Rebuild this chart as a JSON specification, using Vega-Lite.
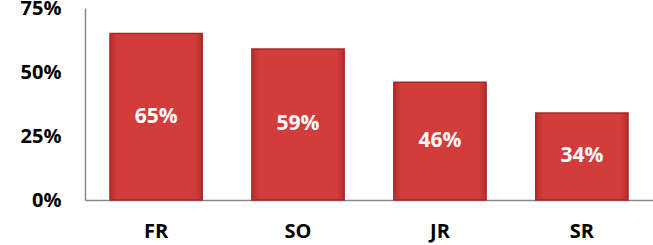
{
  "$schema": "https://vega.github.io/schema/vega-lite/v6.json",
  "width": 568,
  "height": 192,
  "autosize": {"type": "none"},
  "padding": {"left": 85, "top": 8, "right": 0, "bottom": 45},
  "config": {"view": {"stroke": null}, "font": "Open Sans"},
  "data": {"values": [
    {"year": "FR", "v": 0.65},
    {"year": "SO", "v": 0.59},
    {"year": "JR", "v": 0.46},
    {"year": "SR", "v": 0.34}
  ]},
  "transform": [{"calculate": "datum.v / 2", "as": "mid"}],
  "encoding": {
    "x": {
      "field": "year", "type": "nominal", "sort": null,
      "scale": {"paddingInner": 0.35, "paddingOuter": 0.176},
      "axis": {"title": null, "labelAngle": 0, "ticks": false, "domainColor": "#888888", "domainWidth": 1.5,
               "labelFont": "Open Sans", "labelFontWeight": "bold", "labelFontSize": 20, "labelColor": "#000000", "labelPadding": 21}
    }
  },
  "layer": [
    {
      "mark": {"type": "bar", "stroke": "#a52a28", "strokeWidth": 1.5,
        "color": {"gradient": "linear", "x1": 0, "y1": 0, "x2": 1, "y2": 0,
          "stops": [{"offset": 0, "color": "#b52e2c"}, {"offset": 0.08, "color": "#d23c3a"}, {"offset": 0.92, "color": "#d23c3a"}, {"offset": 1, "color": "#b52e2c"}]}},
      "encoding": {
        "y": {"field": "v", "type": "quantitative",
          "scale": {"domain": [0, 0.75], "nice": false},
          "axis": {"title": null, "values": [0, 0.25, 0.5, 0.75], "format": ".0%", "grid": false, "ticks": false,
                   "domainColor": "#888888", "domainWidth": 1.5, "labelFont": "Open Sans", "labelFontWeight": "bold",
                   "labelFontSize": 20, "labelColor": "#000000", "labelPadding": 24}}
      }
    },
    {
      "mark": {"type": "text", "color": "#ffffff", "fontWeight": "bold", "fontSize": 21, "font": "Open Sans", "baseline": "middle"},
      "encoding": {
        "y": {"field": "mid", "type": "quantitative"},
        "text": {"field": "v", "type": "quantitative", "format": ".0%"}
      }
    }
  ]
}
